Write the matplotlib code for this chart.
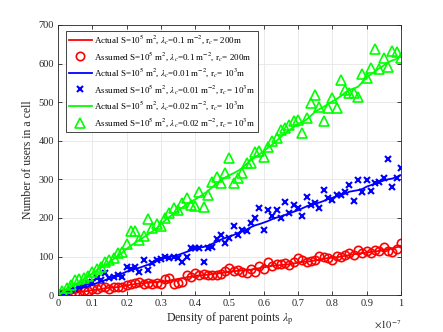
import numpy as np
import matplotlib
matplotlib.use("Agg")
import matplotlib.pyplot as plt
from matplotlib.ticker import FuncFormatter

plt.rcParams['font.family'] = ['Liberation Serif', 'DejaVu Serif']
plt.rcParams['mathtext.fontset'] = 'stix'

# density of parent points, 81 samples from 0 to 1e-7
lam_p = np.linspace(0, 1e-7, 81)

red_actual = [0, 1, 3, 5, 6, 8, 10, 11, 13, 14,
              16, 18, 19, 20, 21, 23, 25, 27, 29, 30,
              31, 32, 33, 34, 35, 36, 38, 40, 42, 44,
              46, 48, 50, 51, 52, 53, 55, 56, 57, 59,
              61, 62, 63, 64, 65, 66, 68, 70, 72, 74,
              76, 77, 78, 79, 80, 82, 84, 86, 87, 88,
              90, 92, 94, 96, 97, 98, 100, 102, 104, 106,
              108, 109, 110, 112, 113, 115, 117, 119, 121, 124,
              128]
red_assumed = [0, 3, 5, 4, 5, 3, 10, 12, 15, 17,
               20, 20, 15, 20, 22, 20, 25, 30, 32, 35,
               30, 32, 28, 32, 28, 42, 45, 30, 32, 35,
               52, 48, 58, 52, 55, 52, 53, 52, 55, 62,
               70, 62, 65, 60, 58, 68, 60, 75, 68, 85,
               75, 80, 80, 82, 78, 85, 95, 90, 85, 88,
               90, 102, 98, 95, 92, 102, 100, 105, 110, 105,
               118, 108, 115, 110, 118, 115, 125, 115, 112, 120,
               135]
blue_actual = [0, 3, 7, 10, 13, 17, 20, 23, 27, 31,
               35, 39, 43, 47, 51, 56, 61, 64, 68, 71,
               75, 79, 83, 88, 94, 98, 100, 101, 104, 108,
               112, 116, 121, 123, 125, 128, 133, 138, 144, 148,
               152, 156, 161, 165, 170, 176, 181, 184, 188, 192,
               197, 201, 204, 208, 212, 216, 220, 225, 230, 234,
               237, 240, 244, 249, 252, 256, 259, 263, 268, 270,
               272, 275, 281, 285, 289, 293, 297, 300, 302, 306,
               311]
blue_assumed = [0, 5, 9, 14, 15, 22, 27, 31, 35, 44,
                40, 57, 44, 48, 53, 48, 74, 67, 74, 61,
                90, 66, 83, 91, 93, 100, 96, 98, 96, 87,
                100, 122, 122, 122, 85, 122, 126, 145, 156, 136,
                148, 178, 156, 169, 165, 186, 199, 225, 169, 221,
                204, 221, 199, 242, 212, 234, 225, 204, 255, 234,
                238, 225, 273, 251, 247, 260, 260, 266, 286, 243,
                299, 268, 299, 270, 290, 294, 303, 352, 281, 303,
                330]
green_actual = [0, 7, 14, 21, 28, 35, 42, 49, 56, 63,
                71, 78, 86, 94, 102, 110, 120, 128, 136, 143,
                150, 158, 165, 173, 184, 194, 203, 211, 219, 227,
                235, 242, 248, 255, 262, 270, 280, 290, 298, 305,
                311, 316, 322, 330, 340, 350, 357, 365, 373, 382,
                390, 400, 410, 420, 428, 435, 444, 448, 455, 465,
                475, 482, 488, 495, 502, 508, 516, 525, 532, 535,
                540, 552, 565, 572, 580, 588, 595, 603, 608, 612,
                620]
green_assumed = [0, 10, 18, 27, 38, 41, 44, 50, 61, 67,
                 74, 87, 90, 96, 110, 113, 132, 165, 165, 143,
                 152, 198, 173, 185, 180, 199, 212, 225, 221, 238,
                 251, 234, 232, 268, 229, 260, 294, 307, 290, 316,
                 355, 290, 303, 316, 342, 342, 372, 374, 359, 385,
                 398, 406, 428, 432, 441, 450, 454, 419, 458, 497,
                 519, 488, 450, 484, 510, 484, 557, 531, 523, 523,
                 514, 573, 563, 588, 637, 585, 613, 592, 633, 631,
                 613]

labels = [r'Actual S=10$^5$ m$^2$, $\lambda_c$=0.1 m$^{-2}$, r$_c$= 200m',
          r'Assumed S=10$^5$ m$^2$, $\lambda_c$=0.1 m$^{-2}$, r$_c$= 200m',
          r'Actual S=10$^5$ m$^2$, $\lambda_c$=0.01 m$^{-2}$, r$_c$= 10$^3$m',
          r'Assumed S=10$^5$ m$^2$, $\lambda_c$=0.01 m$^{-2}$, r$_c$= 10$^3$m',
          r'Actual S=10$^5$ m$^2$, $\lambda_c$=0.02 m$^{-2}$, r$_c$= 10$^3$m',
          r'Assumed S=10$^5$ m$^2$, $\lambda_c$=0.02 m$^{-2}$, r$_c$= 10$^3$m']

fig = plt.figure(figsize=(4.43, 3.32), dpi=100)
ax = fig.add_axes([0.131, 0.111, 0.774, 0.814])

ax.plot(lam_p, red_actual, color='#ff0000', lw=1.3, label=labels[0])
ax.plot(lam_p, red_assumed, 'o', mfc='none', mec='#ff0000', ms=6, mew=1.2,
        label=labels[1])
ax.plot(lam_p, blue_actual, color='#0000ff', lw=1.3, label=labels[2])
ax.plot(lam_p, blue_assumed, 'x', color='#0000ff', ms=4, mew=1.5,
        label=labels[3])
ax.plot(lam_p, green_actual, color='#00ff00', lw=1.3, label=labels[4])
ax.plot(lam_p, green_assumed, '^', mfc='none', mec='#00ff00', ms=7, mew=1.2,
        label=labels[5])

ax.set_xlim(0, 1e-7)
ax.set_ylim(0, 700)
ax.set_xticks(np.arange(0, 11) * 1e-8)
ax.set_yticks(np.arange(0, 701, 100))
ax.xaxis.set_major_formatter(FuncFormatter(lambda v, p: f"{v * 1e7:.1f}".rstrip('0').rstrip('.')))
ax.text(1.0, -0.085, r'$\times 10^{-7}$', transform=ax.transAxes, ha='right',
        va='top', fontsize=7.5, color='#262626')

ax.tick_params(direction='in', top=True, right=True, labelsize=7.5,
               length=3, width=0.6, colors='#262626', pad=3)
ax.grid(True, color='#e6e6e6', lw=0.6)
ax.set_axisbelow(True)
for s in ax.spines.values():
    s.set_color('#262626')
    s.set_linewidth(0.6)

ax.set_xlabel(r'Density of parent points $\lambda_\mathrm{p}$', fontsize=8.5,
              color='#262626', labelpad=2)
ax.set_ylabel('Number of users in a cell', fontsize=8.5, color='#262626',
              labelpad=3)

leg = ax.legend(loc='upper left', fontsize=6.5, frameon=True, fancybox=False,
                edgecolor='#262626', framealpha=1, handlelength=2.55,
                borderpad=0.3, labelspacing=0.45, handletextpad=0.25,
                borderaxespad=0, bbox_to_anchor=(0.023, 0.978))
leg.get_frame().set_linewidth(0.6)

fig.savefig('out.png', dpi=100)
